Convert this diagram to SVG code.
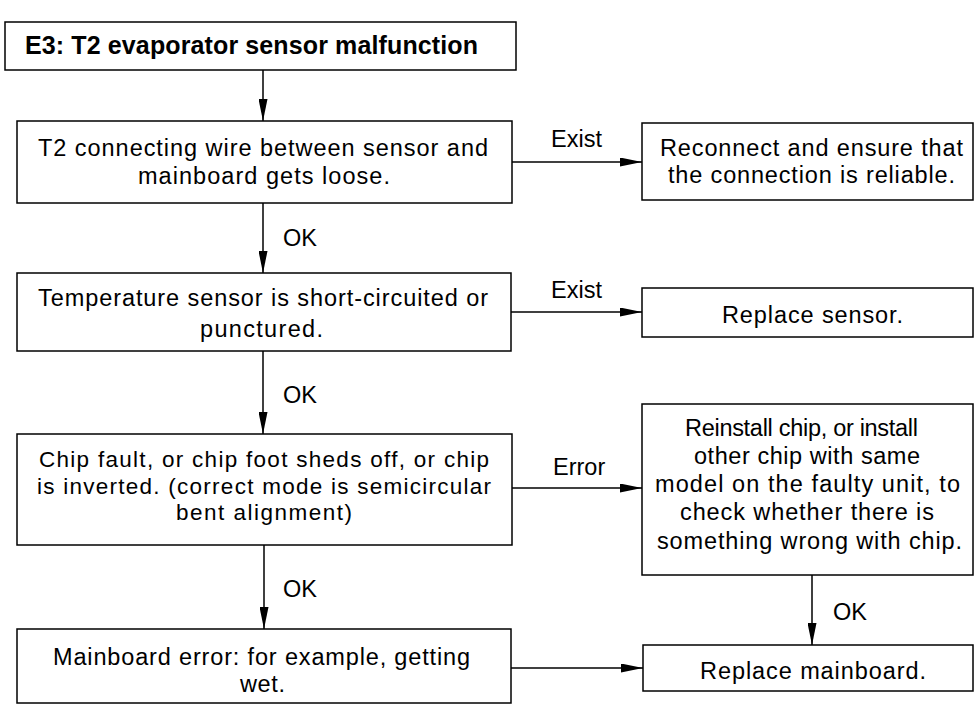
<svg xmlns="http://www.w3.org/2000/svg" width="974" height="704" viewBox="0 0 974 704">
<defs>
<marker id="ah" markerUnits="userSpaceOnUse" markerWidth="22" markerHeight="9" refX="22" refY="4.5" orient="auto">
<path d="M0,0 L22,4.5 L0,9 z" fill="#000"/>
</marker>
<style>
.box{fill:#fff;stroke:#000;stroke-width:1.5}
.t{font-family:"Liberation Sans",Arial,sans-serif;font-size:23.5px;fill:#000}
.s{font-size:22.5px}
.b{font-weight:bold;font-size:25px}
.c{stroke:#000;stroke-width:1.5;fill:none;marker-end:url(#ah)}
</style>
</defs>
<rect width="974" height="704" fill="#fff"/>
<g id="connectors">
<line class="c" x1="263" y1="70" x2="263" y2="121"/>
<line class="c" x1="263" y1="203" x2="263" y2="273"/>
<line class="c" x1="263" y1="351" x2="263" y2="434"/>
<line class="c" x1="264" y1="545" x2="264" y2="629"/>
<line class="c" x1="812" y1="575" x2="812" y2="645"/>
<line class="c" x1="512" y1="162" x2="642" y2="162"/>
<line class="c" x1="511" y1="312" x2="642" y2="312"/>
<line class="c" x1="512" y1="488" x2="642" y2="488"/>
<line class="c" x1="511" y1="668" x2="643" y2="668"/>
<text class="t" x="283" y="246">OK</text>
<text class="t" x="283" y="403">OK</text>
<text class="t" x="283" y="597">OK</text>
<text class="t" x="833" y="620">OK</text>
<text class="t" x="551" y="147">Exist</text>
<text class="t" x="551" y="298">Exist</text>
<text class="t" x="553" y="475">Error</text>
</g>
<g id="title">
<rect class="box" x="5" y="22" width="511" height="48"/>
<text class="t b" x="25" y="54" textLength="453" lengthAdjust="spacing">E3: T2 evaporator sensor malfunction</text>
</g>
<g id="n1">
<rect class="box" x="17" y="121" width="495" height="82"/>
<text class="t" x="38" y="156" textLength="450" lengthAdjust="spacing">T2 connecting wire between sensor and</text>
<text class="t" x="138" y="184" textLength="252" lengthAdjust="spacing">mainboard gets loose.</text>
</g>
<g id="n1a">
<rect class="box" x="642" y="123" width="331" height="77"/>
<text class="t" x="660" y="156" textLength="303" lengthAdjust="spacing">Reconnect and ensure that</text>
<text class="t" x="668" y="183" textLength="287" lengthAdjust="spacing">the connection is reliable.</text>
</g>
<g id="n2">
<rect class="box" x="17" y="273" width="494" height="78"/>
<text class="t" x="38" y="306" textLength="450" lengthAdjust="spacing">Temperature sensor is short-circuited or</text>
<text class="t" x="200" y="337" textLength="123" lengthAdjust="spacing">punctured.</text>
</g>
<g id="n2a">
<rect class="box" x="642" y="288" width="331" height="49"/>
<text class="t" x="722" y="323" textLength="181" lengthAdjust="spacing">Replace sensor.</text>
</g>
<g id="n3">
<rect class="box" x="17" y="434" width="495" height="111"/>
<text class="t s" x="39" y="467" textLength="450" lengthAdjust="spacing">Chip fault, or chip foot sheds off, or chip</text>
<text class="t s" x="37" y="494" textLength="454" lengthAdjust="spacing">is inverted. (correct mode is semicircular</text>
<text class="t s" x="176" y="520" textLength="176" lengthAdjust="spacing">bent alignment)</text>
</g>
<g id="n3a">
<rect class="box" x="642" y="404" width="331" height="171"/>
<text class="t" x="685" y="436" textLength="233" lengthAdjust="spacing">Reinstall chip, or install</text>
<text class="t" x="694" y="464" textLength="226" lengthAdjust="spacing">other chip with same</text>
<text class="t" x="655" y="492" textLength="305" lengthAdjust="spacing">model on the faulty unit, to</text>
<text class="t" x="680" y="520" textLength="254" lengthAdjust="spacing">check whether there is</text>
<text class="t" x="657" y="549" textLength="305" lengthAdjust="spacing">something wrong with chip.</text>
</g>
<g id="n4">
<rect class="box" x="17" y="629" width="494" height="74"/>
<text class="t" x="53" y="665" textLength="417" lengthAdjust="spacing">Mainboard error: for example, getting</text>
<text class="t" x="240" y="692" textLength="45" lengthAdjust="spacing">wet.</text>
</g>
<g id="n4a">
<rect class="box" x="643" y="645" width="330" height="46"/>
<text class="t" x="700" y="679" textLength="226" lengthAdjust="spacing">Replace mainboard.</text>
</g>
</svg>
